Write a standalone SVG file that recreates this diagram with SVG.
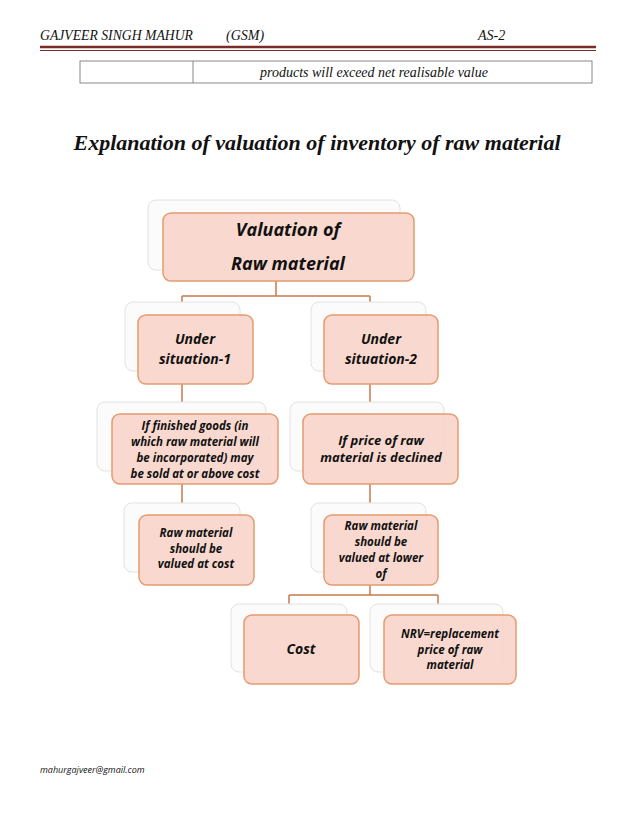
<svg xmlns="http://www.w3.org/2000/svg" width="638" height="826" viewBox="0 0 638 826">
<style>
.sh{fill:#fbfbfb;stroke:#e2e2e2;stroke-width:1}
.bx{fill:#f9d6cb;fill-opacity:0.92;stroke:#e59a6f;stroke-width:1.5}
.t{font-family:"Open Sans","DejaVu Sans",sans-serif;font-style:italic;font-weight:bold;fill:#111;text-anchor:middle}
.c{fill:none;stroke:#c77a4b;stroke-width:1.5}
.hd{font-family:"Liberation Serif",serif;font-style:italic;fill:#111}
</style>
<rect width="638" height="826" fill="#fff"/>
<text class="hd" x="40" y="40" font-size="14" textLength="153" lengthAdjust="spacingAndGlyphs">GAJVEER SINGH MAHUR</text>
<text class="hd" x="226" y="40" font-size="14">(GSM)</text>
<text class="hd" x="478" y="40" font-size="14">AS-2</text>
<line x1="40" y1="47" x2="596" y2="47" stroke="#7b2b2b" stroke-width="2.5"/>
<line x1="40" y1="50.5" x2="596" y2="50.5" stroke="#7b2b2b" stroke-width="1"/>
<rect x="80" y="61" width="512" height="22" fill="none" stroke="#888" stroke-width="1"/>
<line x1="193" y1="61" x2="193" y2="83" stroke="#888" stroke-width="1"/>
<text class="hd" x="374" y="77" font-size="14" text-anchor="middle">products will exceed net realisable value</text>
<text class="hd" x="317" y="150" font-size="22" font-weight="bold" text-anchor="middle">Explanation of valuation of  inventory of raw material</text>
<g id="connectors">
<path class="c" d="M276 281V296M182 296H370M182 296V315M370 296V315M182 384V414M370 384V414M182 484V515M370 484V515M370 585V595M289 595H438M289 595V615M438 595V615"/>
</g>
<g id="n1"><rect class="sh" x="148" y="200" width="252" height="70" rx="8"/><rect class="bx" x="163" y="213" width="251" height="68" rx="8"/>
<text class="t" x="288" y="236" font-size="18">Valuation  of</text><text class="t" x="288" y="270" font-size="18">Raw material</text></g>
<g id="n2"><rect class="sh" x="125" y="302" width="115" height="69" rx="8"/><rect class="bx" x="138" y="315" width="115" height="69" rx="8"/>
<text class="t" x="195" y="344" font-size="14">Under</text><text class="t" x="195" y="364" font-size="14">situation-1</text></g>
<g id="n3"><rect class="sh" x="311" y="302" width="115" height="69" rx="8"/><rect class="bx" x="324" y="315" width="114" height="69" rx="8"/>
<text class="t" x="381" y="344" font-size="14">Under</text><text class="t" x="381" y="364" font-size="14">situation-2</text></g>
<g id="n4"><rect class="sh" x="97" y="402" width="169" height="69" rx="8"/><rect class="bx" x="112" y="414" width="166" height="70" rx="8"/>
<text class="t" x="195" y="430" font-size="11.5">If finished goods (in</text><text class="t" x="195" y="446" font-size="11.5">which raw material will</text><text class="t" x="195" y="462" font-size="11.5">be incorporated) may</text><text class="t" x="195" y="478" font-size="11.5">be sold at or above cost</text></g>
<g id="n5"><rect class="sh" x="290" y="402" width="154" height="69" rx="8"/><rect class="bx" x="303" y="414" width="155" height="70" rx="8"/>
<text class="t" x="381" y="445" font-size="13">If price of raw</text><text class="t" x="381" y="462" font-size="13">material is declined</text></g>
<g id="n6"><rect class="sh" x="124" y="503" width="116" height="69" rx="8"/><rect class="bx" x="139" y="515" width="115" height="70" rx="8"/>
<text class="t" x="196" y="537" font-size="11.5">Raw material</text><text class="t" x="196" y="553" font-size="11.5">should be</text><text class="t" x="196" y="568" font-size="11.5">valued at cost</text></g>
<g id="n7"><rect class="sh" x="311" y="503" width="115" height="69" rx="8"/><rect class="bx" x="324" y="515" width="114" height="70" rx="8"/>
<text class="t" x="381" y="530" font-size="11.5">Raw material</text><text class="t" x="381" y="546" font-size="11.5">should be</text><text class="t" x="381" y="562" font-size="11.5">valued at lower</text><text class="t" x="381" y="578" font-size="11.5">of</text></g>
<g id="n8"><rect class="sh" x="231" y="604" width="116" height="68" rx="8"/><rect class="bx" x="244" y="615" width="115" height="69" rx="8"/>
<text class="t" x="301" y="654" font-size="14">Cost</text></g>
<g id="n9"><rect class="sh" x="370" y="604" width="133" height="68" rx="8"/><rect class="bx" x="384" y="615" width="132" height="69" rx="8"/>
<text class="t" x="450" y="638" font-size="11.5">NRV=replacement</text><text class="t" x="450" y="654" font-size="11.5">price of raw</text><text class="t" x="450" y="669" font-size="11.5">material</text></g>
<text x="40" y="773" font-family="'Open Sans','DejaVu Sans',sans-serif" font-style="italic" font-size="9" fill="#111">mahurgajveer@gmail.com</text>
</svg>
